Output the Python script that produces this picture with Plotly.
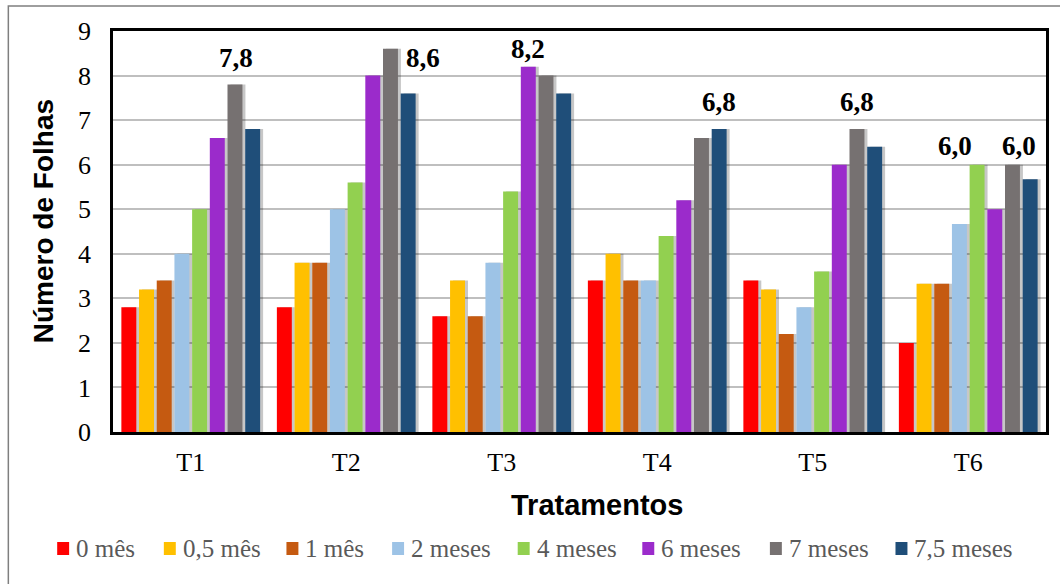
import plotly.graph_objects as go

# Leaf counts per treatment, by time after planting
tratamentos = ["T1", "T2", "T3", "T4", "T5", "T6"]
series_names = ["0 mês", "0,5 mês", "1 mês", "2 meses", "4 meses", "6 meses", "7 meses", "7,5 meses"]
mes_0 = [2.8, 2.8, 2.6, 3.4, 3.4, 2.0]
mes_0_5 = [3.2, 3.8, 3.4, 4.0, 3.2, 3.33]
mes_1 = [3.4, 3.8, 2.6, 3.4, 2.2, 3.33]
meses_2 = [4.0, 5.0, 3.8, 3.4, 2.8, 4.67]
meses_4 = [5.0, 5.6, 5.4, 4.4, 3.6, 6.0]
meses_6 = [6.6, 8.0, 8.2, 5.2, 6.0, 5.0]
meses_7 = [7.8, 8.6, 8.0, 6.6, 6.8, 6.0]
meses_7_5 = [6.8, 7.6, 7.6, 6.8, 6.4, 5.67]
series_values = [mes_0, mes_0_5, mes_1, meses_2, meses_4, meses_6, meses_7, meses_7_5]
colors = ["#FF0000", "#FFC000", "#C55A11", "#9DC3E6", "#92D050", "#9B2BCB", "#767171", "#1F4E79"]
y_ticks = [0, 1, 2, 3, 4, 5, 6, 7, 8, 9]

# Highlighted values: (series index, treatment index, xshift px, yshift px)
highlights = [(6, 0, 1, 26), (6, 1, 33, -9), (5, 2, 0, 18), (7, 3, 0, 27),
              (6, 4, 0, 27), (4, 5, -22, 19), (6, 5, 7, 19)]

# Legend key positions (left edge of each swatch, px)
legend_x = [57, 164, 287, 393, 519, 644, 772, 898]
LEGEND_Y = 548

BARGAP = 0.09
N = len(series_names)
slot = (1 - BARGAP) / N

W, H = 1060, 584
L, R, T, B = 113, 11, 31, 152
pw, ph = W - L - R, H - T - B
n_cat = len(tratamentos)
SHADOW_PX = 3
shift = SHADOW_PX * n_cat / pw

fig = go.Figure()
# Soft drop shadow: same bars on the base axis, nudged a few pixels right
for vals in series_values:
    fig.add_trace(go.Bar(x=tratamentos, y=vals, xaxis="x", yaxis="y",
                         marker_color="rgba(0,0,0,0.22)", marker_line_width=0,
                         showlegend=False, hoverinfo="skip"))
for name, vals, col in zip(series_names, series_values, colors):
    fig.add_trace(go.Bar(x=tratamentos, y=vals, name=name, xaxis="x2", yaxis="y",
                         marker_color=col, marker_line_width=0, showlegend=False))


def px_x(p):
    return (p - L) / pw


def px_y(p):
    return (H - B - p) / ph


annotations = []
for si, ti, dx, dy in highlights:
    v = series_values[si][ti]
    xpos = ti - (1 - BARGAP) / 2 + slot * (si + 0.5)
    annotations.append(dict(
        x=xpos, y=v, xref="x2", yref="y", text="<b>" + f"{v:.1f}".replace(".", ",") + "</b>",
        showarrow=False, xshift=dx, yshift=dy, yanchor="middle",
        font=dict(family="Liberation Serif", size=27, color="#000000"),
    ))

annotations.append(dict(
    x=px_x(43), y=px_y(221), xref="paper", yref="paper", text="<b>Número de Folhas</b>",
    textangle=-90, showarrow=False, xanchor="center", yanchor="middle",
    font=dict(family="Liberation Sans", size=28, color="#000000"),
))
annotations.append(dict(
    x=px_x(599), y=px_y(505), xref="paper", yref="paper", text="<b>Tratamentos</b>",
    showarrow=False, xanchor="center", yanchor="middle",
    font=dict(family="Liberation Sans", size=29, color="#000000"),
))

shapes = [dict(type="rect", xref="paper", yref="paper",
               x0=px_x(8), x1=px_x(1070), y0=px_y(6), y1=px_y(600),
               line=dict(color="#7F7F7F", width=1.5), fillcolor="rgba(0,0,0,0)", layer="below")]

# Legend: colour swatch plus series name
for name, col, lx in zip(series_names, colors, legend_x):
    shapes.append(dict(type="rect", xref="paper", yref="paper",
                       x0=px_x(lx), x1=px_x(lx + 12), y0=px_y(LEGEND_Y - 6), y1=px_y(LEGEND_Y + 7),
                       line=dict(width=0), fillcolor=col))
    annotations.append(dict(
        x=px_x(lx + 17), y=px_y(LEGEND_Y), xref="paper", yref="paper", text=name,
        showarrow=False, xanchor="left", yanchor="middle",
        font=dict(family="Liberation Serif", size=25, color="#595959"),
    ))

fig.update_layout(
    width=W, height=H,
    margin=dict(l=L, r=R, t=T, b=B),
    paper_bgcolor="white", plot_bgcolor="white",
    barmode="group", bargap=BARGAP, bargroupgap=0.155,
    showlegend=False,
    annotations=annotations,
    shapes=shapes,
    xaxis=dict(
        range=[-0.5 - shift, n_cat - 0.5 - shift],
        showline=True, mirror=True, linecolor="#000000", linewidth=2.5,
        showticklabels=False, ticks="", showgrid=False, zeroline=False,
    ),
    xaxis2=dict(
        overlaying="x", side="bottom", range=[-0.5, n_cat - 0.5],
        showline=False, showgrid=False, zeroline=False,
        ticks="outside", ticklen=7, tickcolor="rgba(0,0,0,0)",
        tickfont=dict(family="Liberation Serif", size=26, color="#000000"),
    ),
    yaxis=dict(
        range=[0, 9], tickvals=y_ticks, ticktext=[str(t) for t in y_ticks],
        showline=True, mirror=True, linecolor="#000000", linewidth=2.5,
        ticks="outside", ticklen=14, tickcolor="rgba(0,0,0,0)",
        tickfont=dict(family="Liberation Serif", size=26, color="#000000"),
        showgrid=True, gridcolor="#BFBFBF", gridwidth=1.5, zeroline=False,
    ),
)

fig.write_html("out.html")
